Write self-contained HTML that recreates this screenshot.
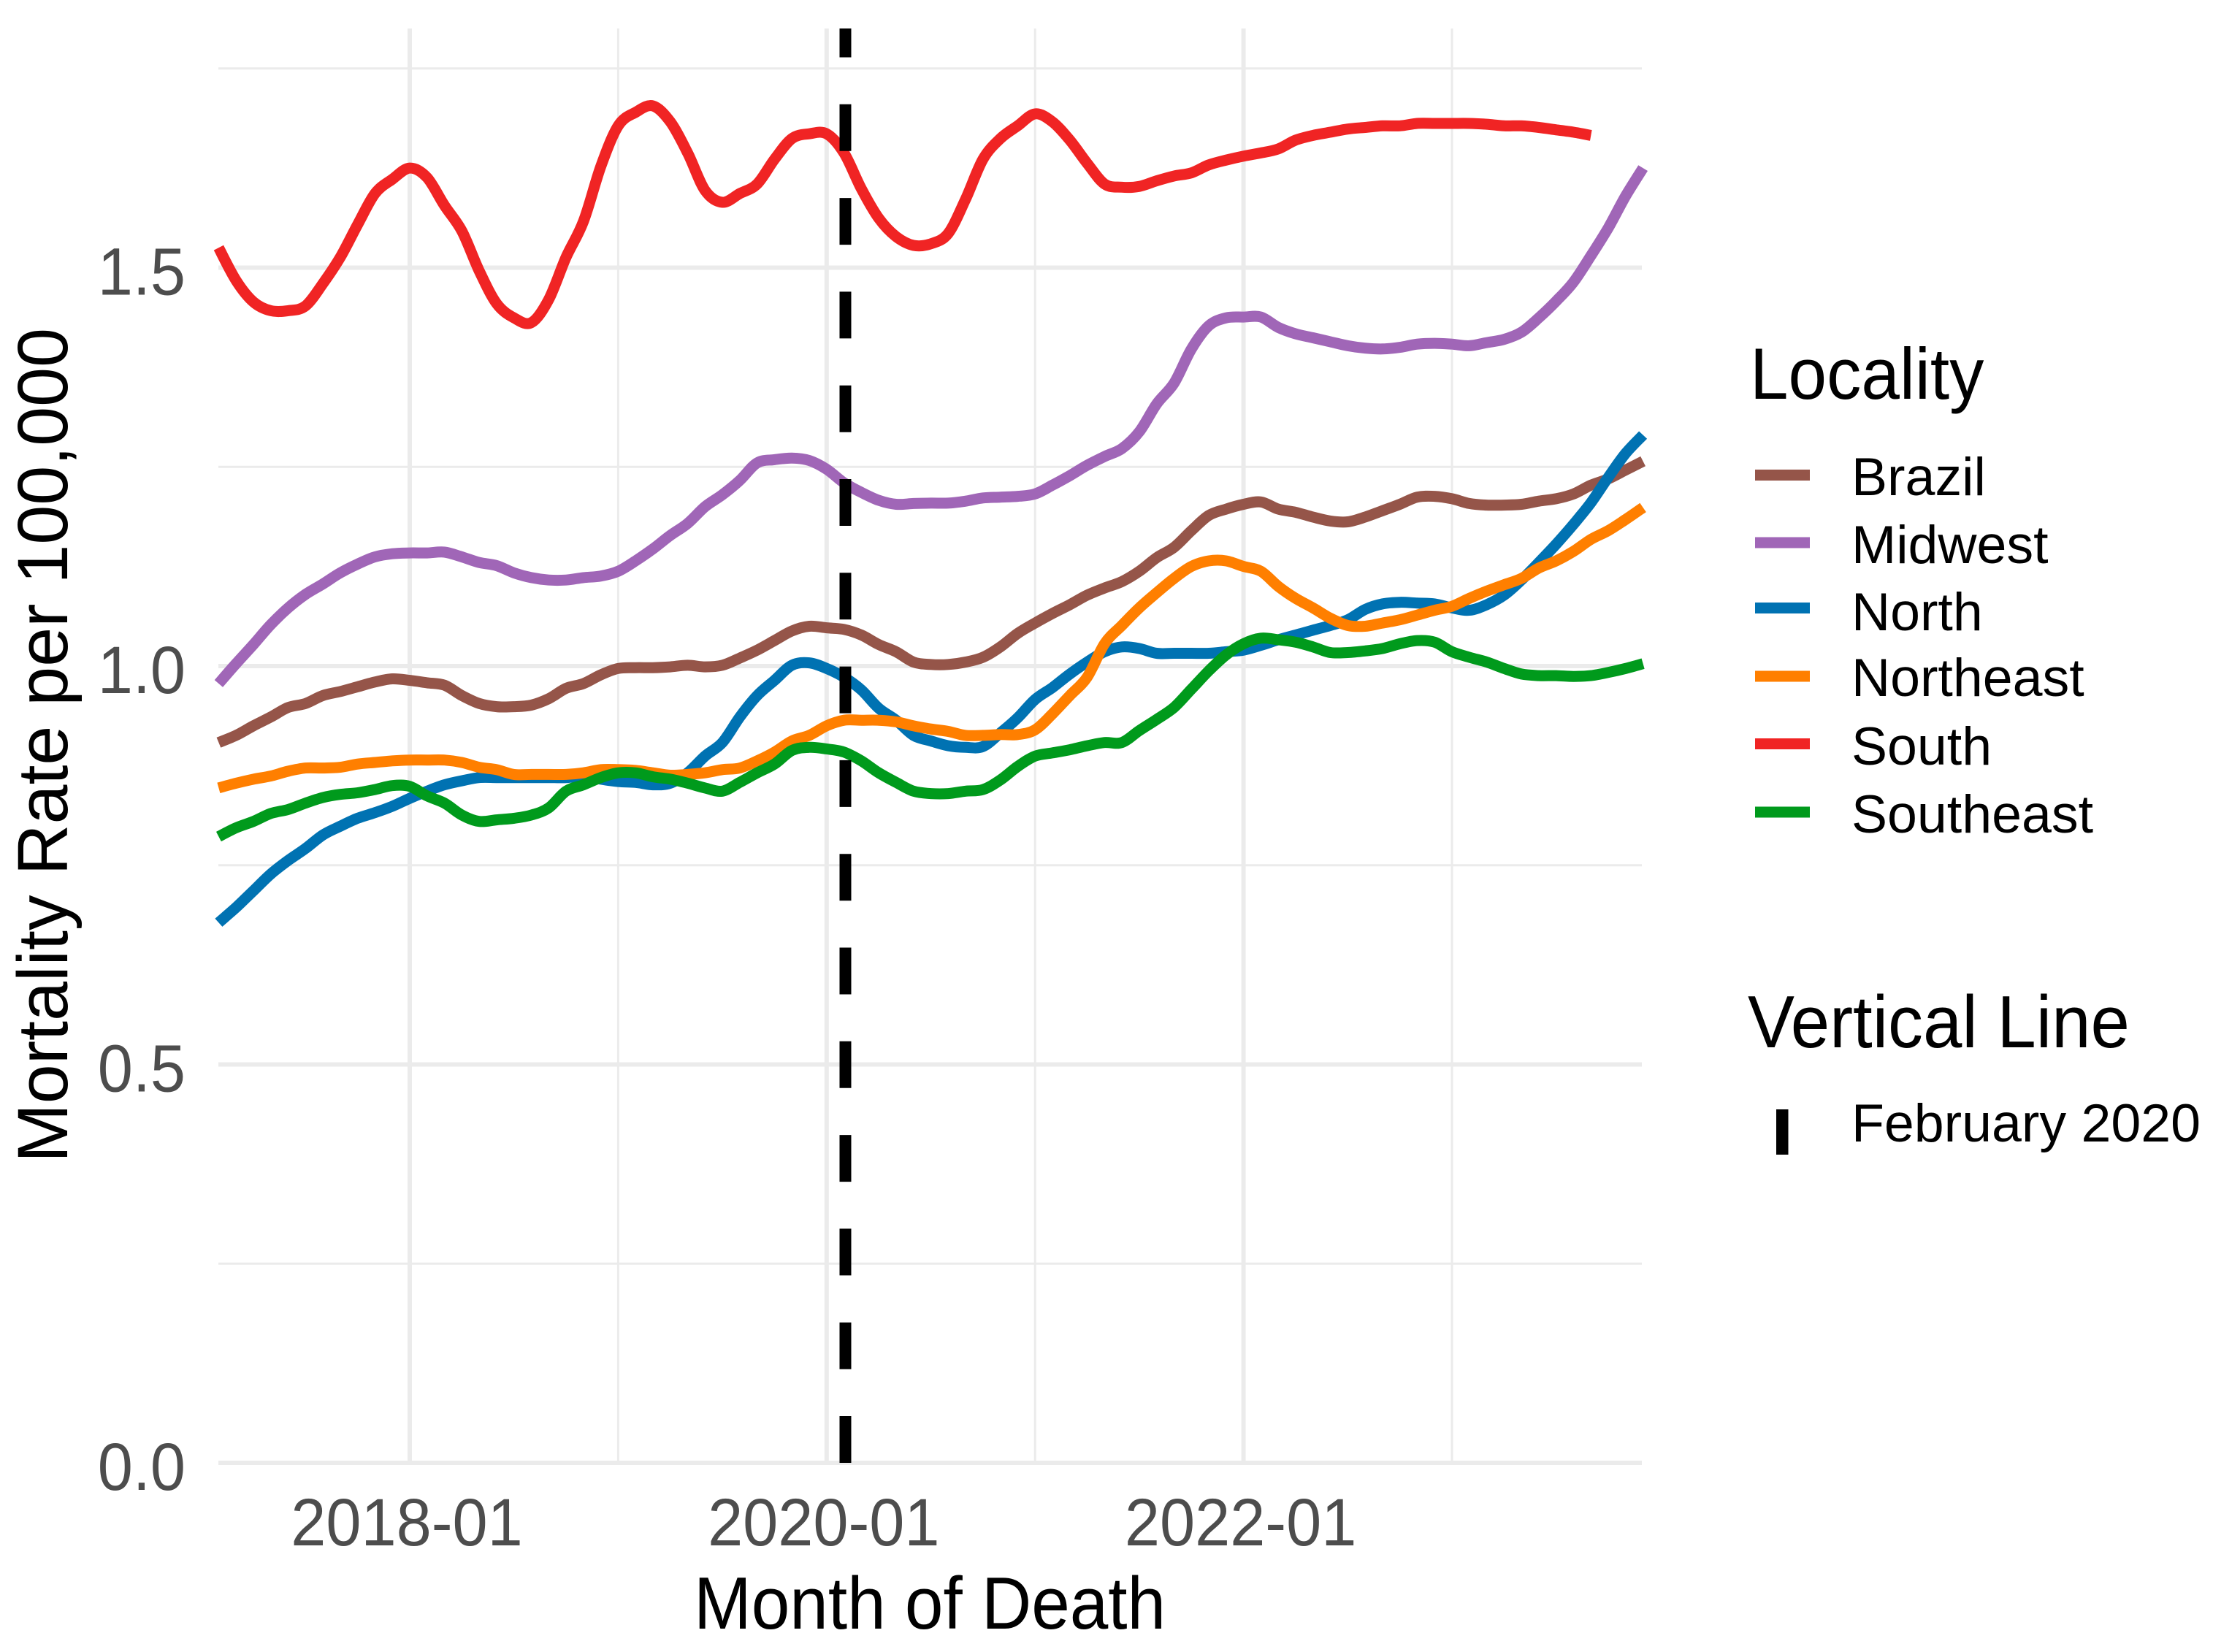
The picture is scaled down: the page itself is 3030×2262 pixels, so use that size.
<!DOCTYPE html>
<html lang="en">
<head>
<meta charset="utf-8">
<title>Mortality Rate per 100,000 by Month of Death</title>
<style>
html,body{margin:0;padding:0;background:#fff;}
svg{display:block;font-family:"Liberation Sans",Arial,sans-serif;}
</style>
</head>
<body>
<svg id="chart" xmlns="http://www.w3.org/2000/svg" width="3030" height="2262" viewBox="0 0 3030 2262">
  <rect x="0" y="0" width="3030" height="2262" fill="#ffffff"/>
  <g id="grid"></g>
  <g id="series"></g>
  <g id="vline"></g>
  <g id="ticks"></g>
  <text transform="translate(950,2230) scale(1,1.07)" font-size="94.5" fill="#000">Month of Death</text>
  <text transform="translate(92,1592) rotate(-90)" font-size="97" fill="#000">Mortality Rate per 100,000</text>
  <g>
    <text transform="translate(2396,546) scale(1,1.05)" font-size="94.5" fill="#000">Locality</text>
    <rect x="2403" y="643" width="75" height="15" fill="#955549"/>
    <text x="2535" y="678" font-size="73.5" fill="#000">Brazil</text>
    <rect x="2403" y="735.5" width="75" height="15" fill="#A066B7"/>
    <text x="2535" y="771" font-size="73.5" fill="#000">Midwest</text>
    <rect x="2403" y="825" width="75" height="15" fill="#0072B2"/>
    <text x="2535" y="863" font-size="73.5" fill="#000">North</text>
    <rect x="2403" y="918.5" width="75" height="15" fill="#FF7F00"/>
    <text x="2535" y="953" font-size="73.5" fill="#000">Northeast</text>
    <rect x="2403" y="1011" width="75" height="15" fill="#F02424"/>
    <text x="2535" y="1047" font-size="73.5" fill="#000">South</text>
    <rect x="2403" y="1104.5" width="75" height="15" fill="#009A1C"/>
    <text x="2535" y="1140" font-size="73.5" fill="#000">Southeast</text>
  </g>
  <g>
    <text transform="translate(2393,1434) scale(1,1.05)" font-size="96" fill="#000">Vertical Line</text>
    <rect x="2432" y="1519" width="16.5" height="62" fill="#000"/>
    <text x="2535" y="1563" font-size="73.5" fill="#000">February 2020</text>
  </g>
</svg>
<script>
const startYear = 2017;
const startMonth = 2;
const xTickMajor = ["2018-01", "2020-01", "2022-01"];
const xTickMinor = ["2019-01", "2021-01", "2023-01"];
const yTickMajor = [0, 0.5, 1, 1.5];
const yTickMinor = [0.25, 0.75, 1.25, 1.75];
const yTickLabels = ["0.0", "0.5", "1.0", "1.5"];
const vlineDate = 2020.09;

const brazil = [.904,.913,.925,.936,.948,.953,.963,.968,.974,.980,.984,.982,.979,.976,.963,.953,.949,.949,.951,.959,.972,.978,.989,.997,.998,.998,.999,1.001,.999,1.001,1.010,1.020,1.032,1.044,1.050,1.048,1.046,1.039,1.027,1.018,1.005,1.002,1.002,1.005,1.011,1.024,1.041,1.054,1.066,1.077,1.089,1.098,1.106,1.119,1.136,1.149,1.170,1.189,1.197,1.203,1.206,1.197,1.193,1.187,1.182,1.181,1.187,1.195,1.203,1.212,1.213,1.210,1.204,1.202,1.202,1.203,1.207,1.210,1.216,1.227,1.235,1.246,1.257];
const midwest = [.978,1.003,1.027,1.052,1.073,1.090,1.103,1.117,1.128,1.137,1.141,1.142,1.142,1.143,1.137,1.130,1.126,1.117,1.111,1.108,1.108,1.111,1.113,1.119,1.132,1.147,1.164,1.179,1.200,1.215,1.233,1.255,1.259,1.261,1.258,1.247,1.230,1.218,1.208,1.203,1.204,1.2045,1.2045,1.207,1.211,1.212,1.213,1.216,1.227,1.239,1.252,1.263,1.273,1.294,1.329,1.355,1.398,1.427,1.437,1.438,1.438,1.425,1.417,1.412,1.407,1.402,1.399,1.398,1.400,1.404,1.405,1.404,1.402,1.406,1.410,1.419,1.437,1.458,1.482,1.515,1.550,1.590,1.625];
const north = [.678,.697,.718,.739,.756,.771,.788,.799,.809,.816,.824,.834,.843,.851,.856,.860,.860,.860,.860,.860,.860,.862,.858,.855,.854,.851,.853,.866,.887,.904,.936,.963,.982,1.001,1.004,.997,.986,.970,.947,.932,.913,.906,.900,.898,.899,.916,.935,.958,.973,.990,1.005,1.018,1.024,1.022,1.016,1.016,1.016,1.016,1.018,1.020,1.026,1.033,1.039,1.045,1.051,1.058,1.071,1.078,1.080,1.079,1.078,1.073,1.070,1.077,1.089,1.108,1.130,1.153,1.178,1.205,1.237,1.267,1.290];
const northeast = [.847,.853,.858,.862,.868,.872,.872,.873,.877,.879,.881,.882,.882,.882,.879,.873,.870,.864,.864,.864,.864,.866,.870,.870,.869,.866,.863,.864,.866,.870,.872,.881,.892,.906,.913,.925,.932,.932,.932,.930,.925,.921,.918,.913,.913,.914,.914,.920,.940,.963,.986,1.028,1.051,1.073,1.092,1.110,1.125,1.132,1.132,1.125,1.119,1.100,1.085,1.073,1.060,1.051,1.050,1.054,1.058,1.064,1.070,1.075,1.085,1.094,1.102,1.110,1.123,1.132,1.144,1.159,1.170,1.184,1.199];
const south = [1.525,1.484,1.457,1.446,1.446,1.452,1.480,1.513,1.554,1.593,1.611,1.625,1.613,1.578,1.546,1.496,1.455,1.437,1.431,1.460,1.513,1.558,1.627,1.678,1.695,1.703,1.683,1.644,1.597,1.582,1.593,1.605,1.636,1.662,1.668,1.668,1.644,1.599,1.562,1.539,1.528,1.530,1.543,1.586,1.636,1.662,1.678,1.693,1.683,1.660,1.631,1.605,1.601,1.602,1.609,1.615,1.619,1.629,1.635,1.640,1.644,1.649,1.660,1.666,1.670,1.674,1.676,1.678,1.678,1.681,1.681,1.681,1.681,1.680,1.678,1.678,1.676,1.673,1.670,1.666];
const southeast = [.786,.797,.805,.815,.820,.828,.835,.839,.841,.845,.850,.849,.837,.828,.813,.805,.807,.809,.813,.822,.843,.851,.860,.866,.866,.861,.858,.853,.847,.843,.854,.866,.877,.894,.898,.896,.892,.881,.866,.854,.843,.840,.840,.843,.845,.857,.874,.887,.891,.895,.900,.904,.904,.919,.933,.948,.971,.994,1.014,1.028,1.035,1.033,1.030,1.024,1.017,1.017,1.019,1.022,1.028,1.032,1.030,1.018,1.011,1.005,.997,.990,.988,.988,.987,.988,.992,.997,1.003];

const svgNS = "http://www.w3.org/2000/svg";
const plotLeft = 299, plotRight = 2248, plotTop = 39, plotBottom = 2003;
function dateValue(label) {
  const parts = label.split("-");
  return Number(parts[0]) + (Number(parts[1]) - 1) / 12;
}
function xScale(t) { return 561 + (t - 2018) * 285.4; }
function yScale(v) { return 2003 - v * 1091; }
function indexToDate(i) { return startYear + (startMonth - 1 + i) / 12; }

const gridLayer = document.getElementById("grid");
const gridColor = "#ebebeb";
yTickMinor.forEach(function (v) {
  const l = document.createElementNS(svgNS, "line");
  
  
  l.setAttribute("x1", plotLeft); l.setAttribute("x2", plotRight);
  l.setAttribute("y1", yScale(v)); l.setAttribute("y2", yScale(v));
  l.setAttribute("stroke", gridColor); l.setAttribute("stroke-width", 3);
  gridLayer.appendChild(l);
});
xTickMinor.forEach(function (d) {
  const l = document.createElementNS(svgNS, "line");
  
  
  l.setAttribute("x1", xScale(dateValue(d))); l.setAttribute("x2", xScale(dateValue(d)));
  l.setAttribute("y1", plotTop); l.setAttribute("y2", plotBottom);
  l.setAttribute("stroke", gridColor); l.setAttribute("stroke-width", 3);
  gridLayer.appendChild(l);
});
yTickMajor.forEach(function (v) {
  const l = document.createElementNS(svgNS, "line");
  
  
  l.setAttribute("x1", plotLeft); l.setAttribute("x2", plotRight);
  l.setAttribute("y1", yScale(v)); l.setAttribute("y2", yScale(v));
  l.setAttribute("stroke", gridColor); l.setAttribute("stroke-width", 6);
  gridLayer.appendChild(l);
});
xTickMajor.forEach(function (d) {
  const l = document.createElementNS(svgNS, "line");
  
  
  l.setAttribute("x1", xScale(dateValue(d))); l.setAttribute("x2", xScale(dateValue(d)));
  l.setAttribute("y1", plotTop); l.setAttribute("y2", plotBottom);
  l.setAttribute("stroke", gridColor); l.setAttribute("stroke-width", 6);
  gridLayer.appendChild(l);
});

const tickLayer = document.getElementById("ticks");
yTickMajor.forEach(function (v, i) {
  const t = document.createElementNS(svgNS, "text");
  
  
  t.setAttribute("transform", "translate(254," + (yScale(v) + 37) + ") scale(1,1.06)");
  t.setAttribute("text-anchor", "end");
  t.setAttribute("font-size", 86.5);
  t.setAttribute("fill", "#4d4d4d");
  t.textContent = yTickLabels[i];
  tickLayer.appendChild(t);
});
xTickMajor.forEach(function (d) {
  const t = document.createElementNS(svgNS, "text");
  
  
  t.setAttribute("transform", "translate(" + (xScale(dateValue(d)) - 4) + ",2116) scale(1,1.06)");
  t.setAttribute("text-anchor", "middle");
  t.setAttribute("font-size", 86.5);
  t.setAttribute("fill", "#4d4d4d");
  t.textContent = d;
  tickLayer.appendChild(t);
});

const seriesLayer = document.getElementById("series");
function smoothPath(values) {
  const pts = values.map(function (v, i) {
    return [xScale(indexToDate(i)), yScale(v)];
  });
  let d = "M" + pts[0][0].toFixed(1) + " " + pts[0][1].toFixed(1);
  for (let i = 0; i < pts.length - 1; i++) {
    const p0 = pts[Math.max(i - 1, 0)], p1 = pts[i], p2 = pts[i + 1], p3 = pts[Math.min(i + 2, pts.length - 1)];
    const c1x = p1[0] + (p2[0] - p0[0]) / 6, c1y = p1[1] + (p2[1] - p0[1]) / 6;
    const c2x = p2[0] - (p3[0] - p1[0]) / 6, c2y = p2[1] - (p3[1] - p1[1]) / 6;
    d += "C" + c1x.toFixed(1) + " " + c1y.toFixed(1) + " " + c2x.toFixed(1) + " " + c2y.toFixed(1) + " " + p2[0].toFixed(1) + " " + p2[1].toFixed(1);
  }
  return d;
}
function drawSeries(values, color, name) {
  const p = document.createElementNS(svgNS, "path");
  
  
  p.setAttribute("d", smoothPath(values));
  p.setAttribute("fill", "none");
  p.setAttribute("stroke", color);
  p.setAttribute("stroke-width", 15);
  p.setAttribute("stroke-linejoin", "round");
  seriesLayer.appendChild(p);
}
drawSeries(brazil, "#955549", "line-brazil");
drawSeries(midwest, "#A066B7", "line-midwest");
drawSeries(north, "#0072B2", "line-north");
drawSeries(northeast, "#FF7F00", "line-northeast");
drawSeries(south, "#F02424", "line-south");
drawSeries(southeast, "#009A1C", "line-southeast");

const vl = document.createElementNS(svgNS, "line");


vl.setAttribute("x1", xScale(vlineDate)); vl.setAttribute("x2", xScale(vlineDate));
vl.setAttribute("y1", plotBottom); vl.setAttribute("y2", plotTop);
vl.setAttribute("stroke", "#000");
vl.setAttribute("stroke-width", 16);
vl.setAttribute("stroke-dasharray", "64 64.3");
document.getElementById("vline").appendChild(vl);
</script>
</body>
</html>
